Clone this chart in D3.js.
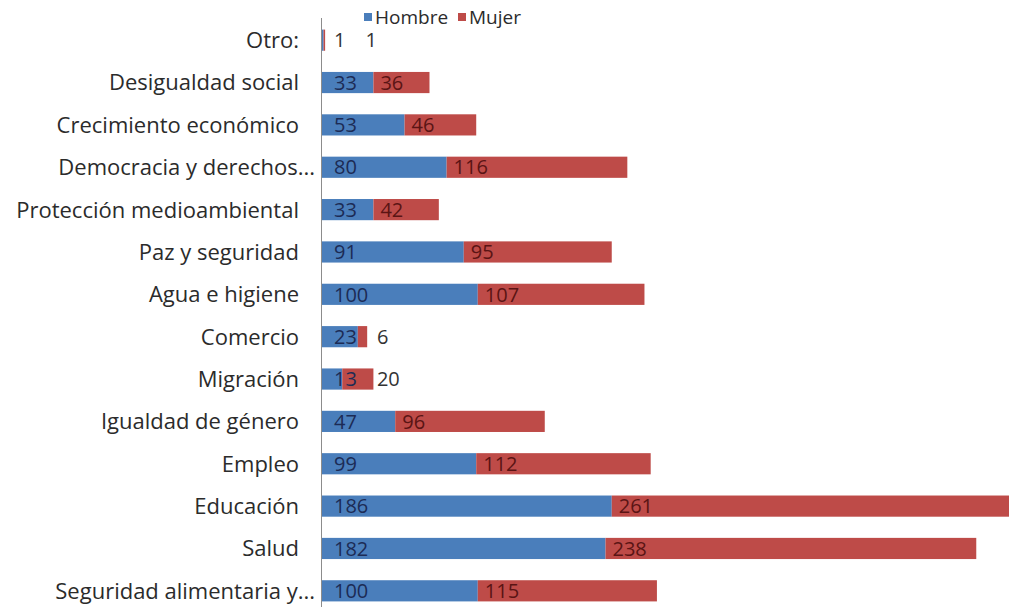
<!DOCTYPE html>
<html>
<head>
<meta charset="utf-8">
<script src="https://cdn.jsdelivr.net/npm/d3@7"></script>
<style>
  body { margin: 0; background: #fff; }
  text { font-family: "Open Sans", Lato, sans-serif; }
</style>
</head>
<body>
<div id="chart"></div>
<script>
var svgWidth = 1009;
var svgHeight = 607;

// data, top to bottom
var categories = ["Otro:", "Desigualdad social", "Crecimiento económico", "Democracia y derechos...",
  "Protección medioambiental", "Paz y seguridad", "Agua e higiene", "Comercio", "Migración",
  "Igualdad de género", "Empleo", "Educación", "Salud", "Seguridad alimentaria y..."];
var hombre = [1, 33, 53, 80, 33, 91, 100, 23, 13, 47, 99, 186, 182, 100];
var mujer = [1, 36, 46, 116, 42, 95, 107, 6, 20, 96, 112, 261, 238, 115];
var seriesNames = ["Hombre", "Mujer"];
var colors = ["#4a7ebb", "#be4b48"];
var labelColors = ["#1c2b55", "#5a1414"];

var svg = d3.select("#chart")
  .append("svg")
  .attr("width", svgWidth)
  .attr("height", svgHeight);

var x = d3.scaleLinear().domain([0, 450]).range([322, 1023]);
var y = d3.scaleBand().domain(categories).range([19, 612]).paddingInner(0.5).paddingOuter(0.25);

var rows = categories.map(function(c, i) {
  return { cat: c, h: hombre[i], m: mujer[i] };
});

// bars
var rowGroup = svg.selectAll(".row")
  .data(rows)
  .enter()
  .append("g")
  .attr("class", "row");

rowGroup.append("rect")
  .attr("x", x(0))
  .attr("y", d => y(d.cat))
  .attr("width", d => x(d.h) - x(0))
  .attr("height", y.bandwidth())
  .attr("fill", colors[0]);

rowGroup.append("rect")
  .attr("x", d => x(d.h))
  .attr("y", d => y(d.cat))
  .attr("width", d => x(d.h + d.m) - x(d.h))
  .attr("height", y.bandwidth())
  .attr("fill", colors[1]);

// value labels
rowGroup.each(function(d) {
  var g = d3.select(this);
  var cy = y(d.cat) + y.bandwidth() / 2;
  var hx = x(0) + 12;
  var ht = g.append("text")
    .attr("x", hx)
    .attr("y", cy)
    .attr("dy", "0.36em")
    .attr("font-size", 20)
    .attr("fill", (x(d.h) - x(0)) > 20 ? labelColors[0] : "#333")
    .text(d.h);
  var hEnd = hx + ht.node().getComputedTextLength();
  var mx = Math.max(x(d.h) + 7, hEnd + 20);
  var inside = mx + 10 < x(d.h + d.m);
  g.append("text")
    .attr("x", mx)
    .attr("y", cy)
    .attr("dy", "0.36em")
    .attr("font-size", 20)
    .attr("fill", inside ? labelColors[1] : "#333")
    .text(d.m);
});

// category axis
svg.append("line")
  .attr("x1", 321.5).attr("x2", 321.5)
  .attr("y1", 18).attr("y2", svgHeight)
  .attr("stroke", "#8c8c8c")
  .attr("stroke-width", 1);

svg.selectAll(".cat")
  .data(categories)
  .enter()
  .append("text")
  .attr("class", "cat")
  .attr("x", d => d.endsWith("...") ? 315 : 299)
  .attr("y", d => y(d) + y.bandwidth() / 2)
  .attr("dy", "0.36em")
  .attr("text-anchor", "end")
  .attr("font-size", 22)
  .attr("fill", "#2b2b2b")
  .text(d => d);

// legend
var legendX = [364, 458];
var legend = svg.selectAll(".legend")
  .data(seriesNames)
  .enter()
  .append("g")
  .attr("class", "legend")
  .attr("transform", (d, i) => `translate(${legendX[i]}, 17)`);

legend.append("rect")
  .attr("x", 0).attr("y", -4)
  .attr("width", 8).attr("height", 8)
  .attr("fill", (d, i) => colors[i]);

legend.append("text")
  .attr("x", 11)
  .attr("y", 0)
  .attr("dy", "0.36em")
  .attr("font-size", 19)
  .attr("fill", "#2b2b2b")
  .text(d => d);
</script>
</body>
</html>
